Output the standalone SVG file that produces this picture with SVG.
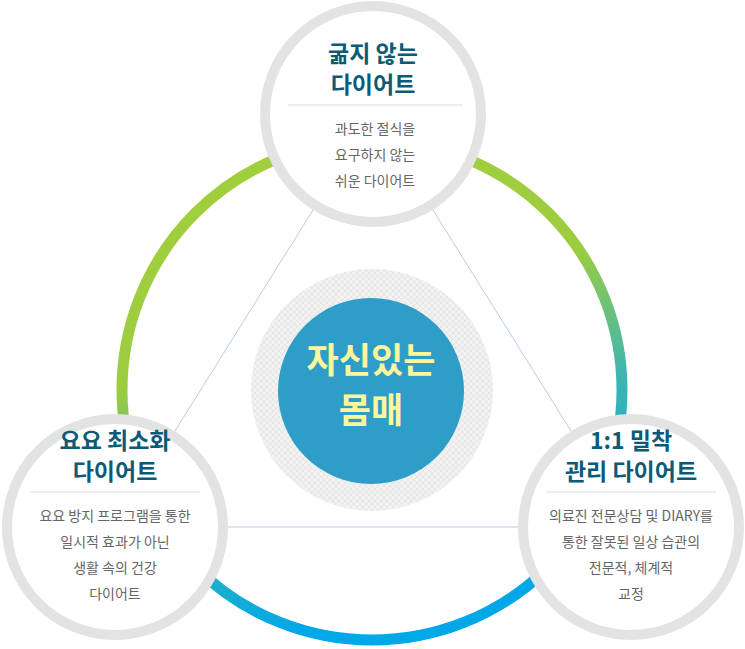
<svg xmlns="http://www.w3.org/2000/svg" width="745" height="649" viewBox="0 0 745 649">
<style>
.ring{fill:#fff;stroke:#e3e3e3;stroke-width:10}
.t{font-family:"Noto Sans CJK KR","Noto Sans",sans-serif;font-weight:bold;font-size:23px;fill:#0b5a78;text-anchor:middle}
.b{font-family:"Noto Sans CJK KR","Noto Sans",sans-serif;font-size:14px;fill:#666;text-anchor:middle}
.div{stroke:#ddd;stroke-width:1}
</style>
<defs>
<linearGradient id="g" x1="0" y1="0" x2="0.3" y2="1">
<stop offset="0" stop-color="#a3cf3a"/><stop offset="0.45" stop-color="#9ccd40"/><stop offset="0.7" stop-color="#3fb6b0"/><stop offset="1" stop-color="#00a8e8"/>
</linearGradient>
<pattern id="h" width="6" height="6" patternUnits="userSpaceOnUse">
<rect width="6" height="6" fill="#f2f2f2"/>
<path d="M0 0L6 6M6 0L0 6" stroke="#dcdcdc" stroke-width="0.6"/>
</pattern>
</defs>
<circle cx="372" cy="390" r="250" fill="none" stroke="url(#g)" stroke-width="11"/>
<g id="connectors" stroke="#b8cbe6" stroke-width="1">
<line x1="373" y1="114" x2="115" y2="527"/>
<line x1="373" y1="114" x2="631" y2="527"/>
<line x1="115" y1="527" x2="631" y2="527"/>
</g>
<g id="center">
<circle cx="372" cy="390" r="121" fill="url(#h)"/>
<circle cx="371" cy="391" r="93" fill="#2e9ec8"/>
<text x="371" y="373" style="font-family:'Noto Sans CJK KR',sans-serif;font-weight:bold;font-size:35px;fill:#fff59d;text-anchor:middle">자신있는</text>
<text x="371" y="423" style="font-family:'Noto Sans CJK KR',sans-serif;font-weight:bold;font-size:35px;fill:#fff59d;text-anchor:middle">몸매</text>
</g>
<g id="top">
<circle class="ring" cx="373" cy="114" r="108"/>
<text class="t" x="373" y="62">굶지 않는</text>
<text class="t" x="373" y="93">다이어트</text>
<line class="div" x1="288" y1="105" x2="463" y2="105"/>
<text class="b" x="375" y="134">과도한 절식을</text>
<text class="b" x="375" y="160">요구하지 않는</text>
<text class="b" x="375" y="186">쉬운 다이어트</text>
</g>
<g id="left">
<circle class="ring" cx="115" cy="527" r="108"/>
<text class="t" x="115" y="449">요요 최소화</text>
<text class="t" x="115" y="480">다이어트</text>
<line class="div" x1="30" y1="492" x2="200" y2="492"/>
<text class="b" x="115" y="521">요요 방지 프로그램을 통한</text>
<text class="b" x="115" y="547">일시적 효과가 아닌</text>
<text class="b" x="115" y="573">생활 속의 건강</text>
<text class="b" x="115" y="599">다이어트</text>
</g>
<g id="right">
<circle class="ring" cx="631" cy="527" r="108"/>
<text class="t" x="631" y="449">1:1 밀착</text>
<text class="t" x="631" y="480">관리 다이어트</text>
<line class="div" x1="546" y1="492" x2="716" y2="492"/>
<text class="b" x="631" y="521">의료진 전문상담 및 DIARY를</text>
<text class="b" x="631" y="547">통한 잘못된 일상 습관의</text>
<text class="b" x="631" y="573">전문적, 체계적</text>
<text class="b" x="631" y="599">교정</text>
</g>
</svg>
